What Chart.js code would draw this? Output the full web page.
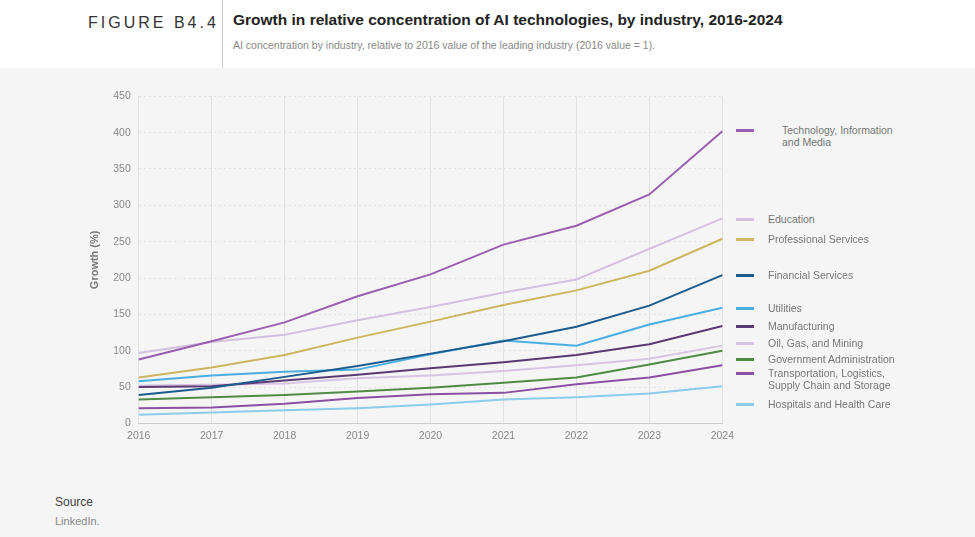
<!DOCTYPE html>
<html><head><meta charset="utf-8">
<script src="https://cdn.jsdelivr.net/npm/chart.js@4/dist/chart.umd.min.js"></script>
<style>
body{margin:0;width:975px;height:537px;background:#f5f5f5;font-family:"Liberation Sans",Arial,sans-serif;position:relative;overflow:hidden}
#head{position:absolute;left:0;top:0;width:975px;height:68px;background:#fff}
#fig{position:absolute;left:88px;top:14px;font-size:16px;letter-spacing:3px;color:#333}
#vl{position:absolute;left:222px;top:0;width:1px;height:68px;background:#ccc}
#title{position:absolute;left:233px;top:11px;font-size:15.5px;font-weight:bold;color:#222}
#sub{position:absolute;left:233px;top:39px;font-size:10.5px;color:#888}
#wrap{position:absolute;left:60px;top:82px;width:680px;height:366px}
.lg{position:absolute;font-size:10.5px;color:#777;line-height:12px}
.lg i{position:absolute;left:-32px;top:5px;width:18px;height:3px}
#src{position:absolute;left:55px;top:495px;font-size:12px;color:#444}
#li{position:absolute;left:55px;top:515px;font-size:11px;color:#888}
</style></head><body>
<div id="head"></div><div id="fig">FIGURE B4.4</div><div id="vl"></div>
<div id="title">Growth in relative concentration of AI technologies, by industry, 2016-2024</div>
<div id="sub">AI concentration by industry, relative to 2016 value of the leading industry (2016 value = 1).</div>
<div id="wrap"><canvas id="c"></canvas></div>
<div id="src">Source</div><div id="li">LinkedIn.</div>
<div id="legend"></div>
<script>
const years=["2016","2017","2018","2019","2020","2021","2022","2023","2024"];
const names=["Technology, Information and Media","Education","Professional Services","Financial Services","Utilities","Manufacturing","Oil, Gas, and Mining","Government Administration","Transportation, Logistics, Supply Chain and Storage","Hospitals and Health Care"];
const colors=["#9a5fb0","#d4bfdf","#cdb562","#1d5b8c","#4aaee3","#5a3a72","#d8c4e2","#4f8b45","#8b4fa3","#8ccbea"];
const tech=[88,113,139,175,205,246,272,315,402];
const edu=[97,112,122,142,160,180,198,240,282];
const prof=[63,77,94,118,140,163,183,210,254];
const fin=[39,49,64,79,96,113,133,162,204];
const util=[58,66,71,74,95,114,107,136,159];
const manu=[50,51,59,67,76,84,94,109,134];
const oil=[52,53,55,62,66,72,80,89,107];
const gov=[33,36,39,44,49,56,63,81,100];
const trans=[21,22,27,35,40,42,54,63,80];
const hosp=[12,15,18,21,26,33,36,41,51];
const series=[tech,edu,prof,fin,util,manu,oil,gov,trans,hosp];
const yTicks=[0,50,100,150,200,250,300,350,400,450];
const legendTop=[124,213,233,269,302,320,337,353,367,398];
const legendLeft=[782,768,768,768,768,768,768,768,768,768];
const legendWidth=[130,170,170,170,170,170,170,170,140,170];
const lg=document.getElementById('legend');
names.forEach((n,i)=>{const d=document.createElement('div');d.className='lg';d.style.left=legendLeft[i]+'px';d.style.top=legendTop[i]+'px';
d.style.width=legendWidth[i]+'px';d.innerHTML='<i style="background:'+colors[i]+';left:'+(i==0?-46:-32)+'px"></i>'+n;lg.appendChild(d);});
new Chart(document.getElementById('c'),{type:'line',
data:{labels:years,datasets:series.map((s,i)=>({label:names[i],data:s,borderColor:colors[i],borderWidth:2,pointRadius:0,tension:0,fill:false}))},
options:{responsive:true,maintainAspectRatio:false,animation:false,
layout:{padding:{top:9,right:6,bottom:0,left:24}},
plugins:{legend:{display:false},tooltip:{enabled:false}},
scales:{x:{grid:{color:'#e2e2e2',drawTicks:false},border:{color:'#ccc'},ticks:{color:'#888',font:{size:10.5,family:'Liberation Sans'},padding:6}},
y:{min:0,max:450,afterBuildTicks:a=>{a.ticks=yTicks.map(v=>({value:v}));},grid:{color:'#e4e4e4',drawTicks:false},border:{display:false,dash:[2,3]},
ticks:{color:'#888',font:{size:10.5,family:'Liberation Sans'},padding:8},
title:{display:true,text:'Growth (%)',color:'#777',font:{size:11,weight:'bold',family:'Liberation Sans'}}}}}});
</script></body></html>
